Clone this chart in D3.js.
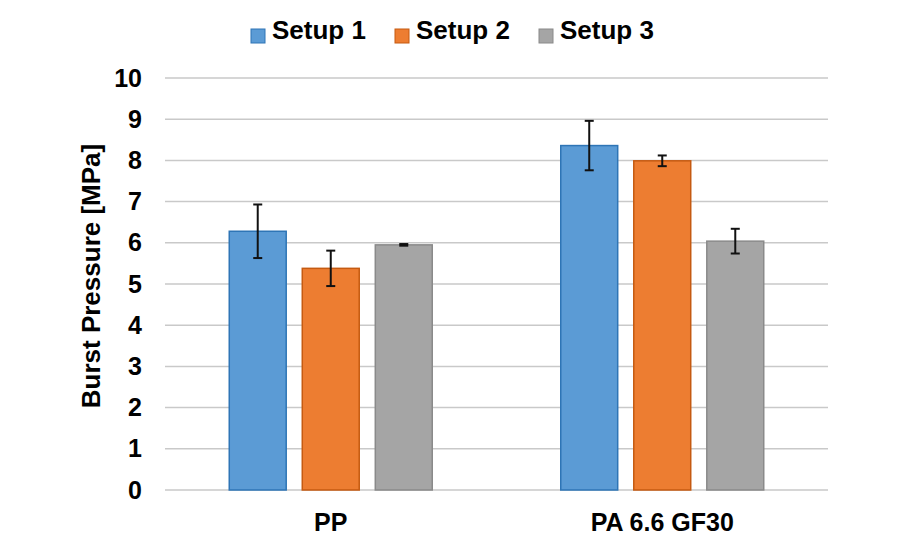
<!DOCTYPE html>
<html lang="en">
<head>
  <meta charset="UTF-8">
  <script src="https://d3js.org/d3.v7.min.js"></script>
  <style>
    body {
      margin: 0;
      background: #fff;
      overflow: hidden;
    }
    text {
      font-family: "Liberation Sans", Arial, sans-serif;
      font-weight: bold;
      fill: #000;
    }
  </style>
</head>
<body>
<svg width="900" height="550"></svg>
<script>
  // materials and setups
  const categories = ['PP', 'PA 6.6 GF30'];
  const series = ['Setup 1', 'Setup 2', 'Setup 3'];
  const colors = ['#5b9bd5', '#ed7d31', '#a5a5a5'];
  const strokes = ['#2e75b6', '#c55a11', '#8a8a8a'];

  // mean burst pressure per setup, one value per material
  const setup1 = [6.28, 8.36];
  const setup2 = [5.38, 7.99];
  const setup3 = [5.95, 6.04];
  // error bar half-widths
  const err1 = [0.65, 0.60];
  const err2 = [0.43, 0.13];
  const err3 = [0.02, 0.30];

  const yTicks = [0, 1, 2, 3, 4, 5, 6, 7, 8, 9, 10];

  const values = [setup1, setup2, setup3];
  const errors = [err1, err2, err3];

  const rows = [];
  series.forEach((s, i) => {
    categories.forEach((c, j) => {
      rows.push({ cat: c, series: s, idx: i, value: values[i][j], err: errors[i][j] });
    });
  });

  const margin = { left: 165, right: 72, top: 78, bottom: 60 };
  const width = 900, height = 550;

  const svg = d3.select('svg');

  const x0 = d3.scaleBand()
    .domain(categories)
    .range([margin.left, width - margin.right]);

  const x1 = d3.scaleBand()
    .domain(series)
    .range([0, x0.bandwidth()])
    .paddingInner(0.22)
    .paddingOuter(0.88);

  const y = d3.scaleLinear()
    .domain([0, 10])
    .range([height - margin.bottom, margin.top]);

  // gridlines
  svg.append('g')
    .selectAll('line')
    .data(yTicks)
    .enter().append('line')
    .attr('x1', margin.left)
    .attr('x2', width - margin.right)
    .attr('y1', d => y(d))
    .attr('y2', d => y(d))
    .attr('stroke', '#c9c9c9')
    .attr('stroke-width', 1.5);

  // y axis labels
  const yAxis = svg.append('g')
    .attr('transform', `translate(${margin.left - 8},0)`)
    .call(d3.axisLeft(y).tickValues(yTicks).tickSize(0).tickPadding(15));
  yAxis.select('.domain').remove();
  yAxis.selectAll('text')
    .style('font-size', '25px')
    .style('font-family', '"Liberation Sans", Arial, sans-serif')
    .style('font-weight', 'bold');

  // category labels
  const xAxis = svg.append('g')
    .attr('transform', `translate(0,${height - margin.bottom})`)
    .call(d3.axisBottom(x0).tickSize(0).tickPadding(23));
  xAxis.select('.domain').remove();
  xAxis.selectAll('text')
    .style('font-size', '25px')
    .style('font-family', '"Liberation Sans", Arial, sans-serif')
    .style('font-weight', 'bold');

  // bars
  svg.append('g')
    .selectAll('rect')
    .data(rows)
    .enter().append('rect')
    .attr('x', d => x0(d.cat) + x1(d.series))
    .attr('y', d => y(d.value))
    .attr('width', x1.bandwidth())
    .attr('height', d => y(0) - y(d.value))
    .attr('fill', d => colors[d.idx])
    .attr('stroke', d => strokes[d.idx])
    .attr('stroke-width', 1.5);

  // error bars
  const eb = svg.append('g')
    .selectAll('g')
    .data(rows)
    .enter().append('g')
    .attr('transform', d => `translate(${x0(d.cat) + x1(d.series) + x1.bandwidth() / 2},0)`)
    .attr('stroke', '#111')
    .attr('stroke-width', 2);
  eb.append('line')
    .attr('y1', d => y(d.value + d.err))
    .attr('y2', d => y(d.value - d.err));
  eb.append('line')
    .attr('x1', -4.5).attr('x2', 4.5)
    .attr('y1', d => y(d.value + d.err))
    .attr('y2', d => y(d.value + d.err));
  eb.append('line')
    .attr('x1', -4.5).attr('x2', 4.5)
    .attr('y1', d => y(d.value - d.err))
    .attr('y2', d => y(d.value - d.err));

  // axis title
  svg.append('text')
    .attr('transform', 'translate(100,276) rotate(-90)')
    .attr('text-anchor', 'middle')
    .style('font-size', '26px')
    .text('Burst Pressure [MPa]');

  // legend
  const legendX = [251, 395, 539];
  const legend = svg.append('g')
    .selectAll('g')
    .data(series)
    .enter().append('g')
    .attr('transform', (d, i) => `translate(${legendX[i]},29)`);
  legend.append('rect')
    .attr('width', 14)
    .attr('height', 14)
    .attr('fill', (d, i) => colors[i])
    .attr('stroke', (d, i) => strokes[i]);
  legend.append('text')
    .attr('x', 21)
    .attr('y', 10)
    .style('font-size', '26px')
    .text(d => d);
</script>
</body>
</html>
